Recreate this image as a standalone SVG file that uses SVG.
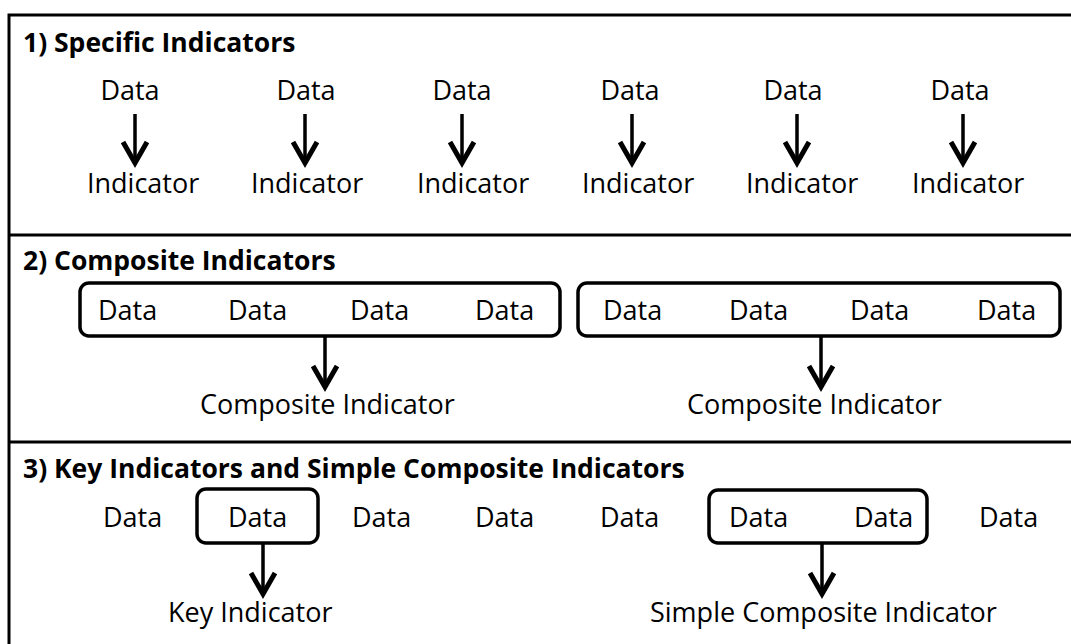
<svg xmlns="http://www.w3.org/2000/svg" width="1071" height="644" viewBox="0 0 1071 644">
<style>
.t{font-family:"Open Sans","Noto Sans","Liberation Sans",sans-serif;font-size:27px;fill:#000}
.h{font-family:"Open Sans","Noto Sans","Liberation Sans",sans-serif;font-size:26.5px;font-weight:bold;fill:#000}
.frame{fill:none;stroke:#000;stroke-width:3}
.box{fill:none;stroke:#000;stroke-width:3.5}
.sh{fill:none;stroke:#000;stroke-width:3.5}
.hd{fill:none;stroke:#000;stroke-width:5;stroke-linejoin:miter;stroke-linecap:butt}
</style>
<rect width="1071" height="644" fill="#fff"/>
<g id="frame">
<rect class="frame" x="9" y="15" width="1080" height="650"/>
<line class="frame" x1="9" y1="235" x2="1071" y2="235"/>
<line class="frame" x1="9" y1="442" x2="1071" y2="442"/>
</g>
<g id="section1">
<text class="h" x="23" y="52">1) Specific Indicators</text>
<text class="t" x="130" y="100" text-anchor="middle">Data</text>
<text class="t" x="306" y="100" text-anchor="middle">Data</text>
<text class="t" x="462" y="100" text-anchor="middle">Data</text>
<text class="t" x="630" y="100" text-anchor="middle">Data</text>
<text class="t" x="793" y="100" text-anchor="middle">Data</text>
<text class="t" x="960" y="100" text-anchor="middle">Data</text>
<text class="t" x="87" y="193">Indicator</text>
<text class="t" x="251" y="193">Indicator</text>
<text class="t" x="417" y="193">Indicator</text>
<text class="t" x="582" y="193">Indicator</text>
<text class="t" x="746" y="193">Indicator</text>
<text class="t" x="912" y="193">Indicator</text>
</g>
<g id="section2">
<text class="h" x="23" y="270">2) Composite Indicators</text>
<rect class="box" x="80" y="283" width="480" height="53" rx="9"/>
<rect class="box" x="578" y="283" width="482" height="53" rx="9"/>
<text class="t" x="98" y="320">Data</text>
<text class="t" x="228" y="320">Data</text>
<text class="t" x="350" y="320">Data</text>
<text class="t" x="475" y="320">Data</text>
<text class="t" x="603" y="320">Data</text>
<text class="t" x="729" y="320">Data</text>
<text class="t" x="850" y="320">Data</text>
<text class="t" x="977" y="320">Data</text>
<text class="t" x="200" y="414">Composite Indicator</text>
<text class="t" x="687" y="414">Composite Indicator</text>
</g>
<g id="section3">
<text class="h" x="23" y="478">3) Key Indicators and Simple Composite Indicators</text>
<rect class="box" x="197" y="489" width="121" height="54" rx="9"/>
<rect class="box" x="709" y="490" width="218" height="53" rx="9"/>
<text class="t" x="103" y="527">Data</text>
<text class="t" x="228" y="527">Data</text>
<text class="t" x="352" y="527">Data</text>
<text class="t" x="475" y="527">Data</text>
<text class="t" x="600" y="527">Data</text>
<text class="t" x="729" y="527">Data</text>
<text class="t" x="854" y="527">Data</text>
<text class="t" x="979" y="527">Data</text>
<text class="t" x="168" y="622">Key Indicator</text>
<text class="t" x="650" y="622">Simple Composite Indicator</text>
</g>
<g id="connectors">
<path class="sh" d="M135 114V162M305 114V162M462 114V162M632 114V162M797 114V162M963 114V162"/>
<path class="hd" d="M123 142L135 163L147 142M293 142L305 163L317 142M450 142L462 163L474 142M620 142L632 163L644 142M785 142L797 163L809 142M951 142L963 163L975 142"/>
<path class="sh" d="M325 336V386M821 336V386M263 543V593M822 543V593"/>
<path class="hd" d="M313 366L325 387L337 366M809 366L821 387L833 366M251 573L263 594L275 573M810 573L822 594L834 573"/>
</g>
</svg>
